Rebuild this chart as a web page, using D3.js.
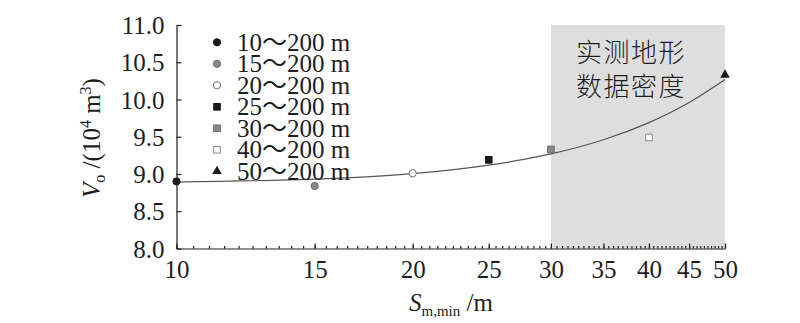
<!DOCTYPE html>
<html><head><meta charset="utf-8">
<script src="https://cdn.jsdelivr.net/npm/d3@7"></script>
<style>
body{margin:0;background:#fff;}
svg text{font-family:"Liberation Serif","Times New Roman","DejaVu Serif","Noto Sans CJK SC",serif !important;fill:#1e1e1e;}
svg text.cjk{font-family:"Noto Sans CJK SC",sans-serif !important;}
</style></head>
<body><svg id="c" width="800" height="323"></svg>
<script>
// ---- data ----
const pointX = [10, 15, 20, 25, 30, 40, 50];
const pointY = [8.90, 8.84, 9.01, 9.19, 9.33, 9.49, 10.33];
const seriesNames = ["10～200 m","15～200 m","20～200 m","25～200 m","30～200 m","40～200 m","50～200 m"];
const fitX = [10, 15, 20, 25, 30, 35, 40, 45, 50];
const fitY = [8.89, 8.93, 9.005, 9.12, 9.27, 9.46, 9.69, 9.96, 10.27];
const xTicks = [10, 15, 20, 25, 30, 35, 40, 45, 50];
const yTicks = [8.0, 8.5, 9.0, 9.5, 10.0, 10.5, 11.0];
const shadeRange = [30, 50];
const shadeLabel = ["实测地形", "数据密度"];
// marker styles
const markers = [
  {shape:"circle", fill:"#1a1a1a", stroke:"#1a1a1a"},
  {shape:"circle", fill:"#8a8a8a", stroke:"#6a6a6a"},
  {shape:"circle", fill:"#ffffff", stroke:"#707070"},
  {shape:"square", fill:"#1a1a1a", stroke:"#1a1a1a"},
  {shape:"square", fill:"#8a8a8a", stroke:"#6a6a6a"},
  {shape:"square", fill:"#ffffff", stroke:"#8a8a8a"},
  {shape:"triangle", fill:"#1a1a1a", stroke:"#1a1a1a"}
];

const SERIF = '"Liberation Serif","Times New Roman","DejaVu Serif",serif';
const svg = d3.select("#c");
const L = 176.5, R = 725, T = 25, B = 248.5;
const x = d3.scaleLog().domain([10, 50]).range([L, R]);
const y = d3.scaleLinear().domain([8, 11]).range([B, T]);

// shaded region
svg.append("rect")
  .attr("x", x(shadeRange[0])).attr("y", y(11))
  .attr("width", x(shadeRange[1]) - x(shadeRange[0]))
  .attr("height", y(8) - y(11))
  .attr("fill", "#dedede");

svg.append("g").selectAll("text").data(shadeLabel).join("text")
  .attr("class", "cjk")
  .attr("x", 576).attr("y", (d,i) => 62 + i*34)
  .style("font-size", "26px")
  .style("letter-spacing", "1.5px")
  .style("font-weight", "300")
  .text(d => d);

// axes
const yAxis = d3.axisLeft(y).tickValues(yTicks).tickFormat(d3.format(".1f")).tickSize(-5).tickSizeOuter(0).tickPadding(12);
const gy = svg.append("g").attr("transform", `translate(${L},0)`).call(yAxis).attr("font-family", SERIF);
gy.selectAll("text").style("font-size", "25px").attr("dy", "0.34em");

const xMinor = d3.range(10, 50.001, 0.5);
const gxm = svg.append("g").attr("transform", `translate(0,${B})`)
  .call(d3.axisBottom(x).tickValues(xMinor).tickSize(-2.5).tickSizeOuter(0).tickFormat(""));
gxm.select(".domain").remove();
const gx = svg.append("g").attr("transform", `translate(0,${B})`)
  .call(d3.axisBottom(x).tickValues(xTicks).tickSize(-5).tickSizeOuter(0).tickFormat(d3.format("d")).tickPadding(12))
  .attr("font-family", SERIF);
gx.selectAll("text").style("font-size", "25px").attr("dy", "0.71em");
svg.selectAll(".domain, .tick line").attr("stroke", "#1e1e1e").attr("stroke-width", 1.2);

// fit curve
const line = d3.line().x(d => x(d[0])).y(d => y(d[1])).curve(d3.curveNatural);
svg.append("path").datum(fitX.map((v,i) => [v, fitY[i]]))
  .attr("d", line).attr("fill", "none").attr("stroke", "#555").attr("stroke-width", 1.2);

function drawMarker(g, m, cx, cy) {
  if (m.shape === "circle") {
    g.append("circle").attr("cx", cx).attr("cy", cy).attr("r", 3.6)
      .attr("fill", m.fill).attr("stroke", m.stroke).attr("stroke-width", 1);
  } else if (m.shape === "square") {
    g.append("rect").attr("x", cx - 3.3).attr("y", cy - 3.3).attr("width", 6.6).attr("height", 6.6)
      .attr("fill", m.fill).attr("stroke", m.stroke).attr("stroke-width", 1);
  } else {
    g.append("path").attr("d", d3.symbol(d3.symbolTriangle, 40)())
      .attr("transform", `translate(${cx},${cy})`).attr("fill", m.fill);
  }
}

const gp = svg.append("g");
pointX.forEach((v, i) => drawMarker(gp, markers[i], x(v), y(pointY[i])));

// legend
const gl = svg.append("g");
seriesNames.forEach((n, i) => {
  const cy = 42.3 + i * 21.5;
  drawMarker(gl, markers[i], 217, cy);
  gl.append("text").attr("x", 237).attr("y", cy).attr("dy", "0.34em")
    .style("font-size", "25px").text(n);
});

// y label
const yl = svg.append("text")
  .attr("transform", "translate(100,138) rotate(-90)")
  .attr("text-anchor", "middle").style("font-size", "25px");
yl.append("tspan").style("font-style", "italic").text("V");
yl.append("tspan").attr("dy", 5).style("font-size", "16px").text("o");
yl.append("tspan").attr("dy", -5).text(" /(10");
yl.append("tspan").attr("dy", -9).style("font-size", "16px").text("4");
yl.append("tspan").attr("dy", 9).text(" m");
yl.append("tspan").attr("dy", -9).style("font-size", "16px").text("3");
yl.append("tspan").attr("dy", 9).text(")");

// x label
const xl = svg.append("text").attr("x", 451).attr("y", 311).attr("text-anchor", "middle").style("font-size", "25px");
xl.append("tspan").style("font-style", "italic").text("S");
xl.append("tspan").attr("dy", 5).style("font-size", "15px").text("m,min");
xl.append("tspan").attr("dy", -5).text(" /m");
</script></body></html>
